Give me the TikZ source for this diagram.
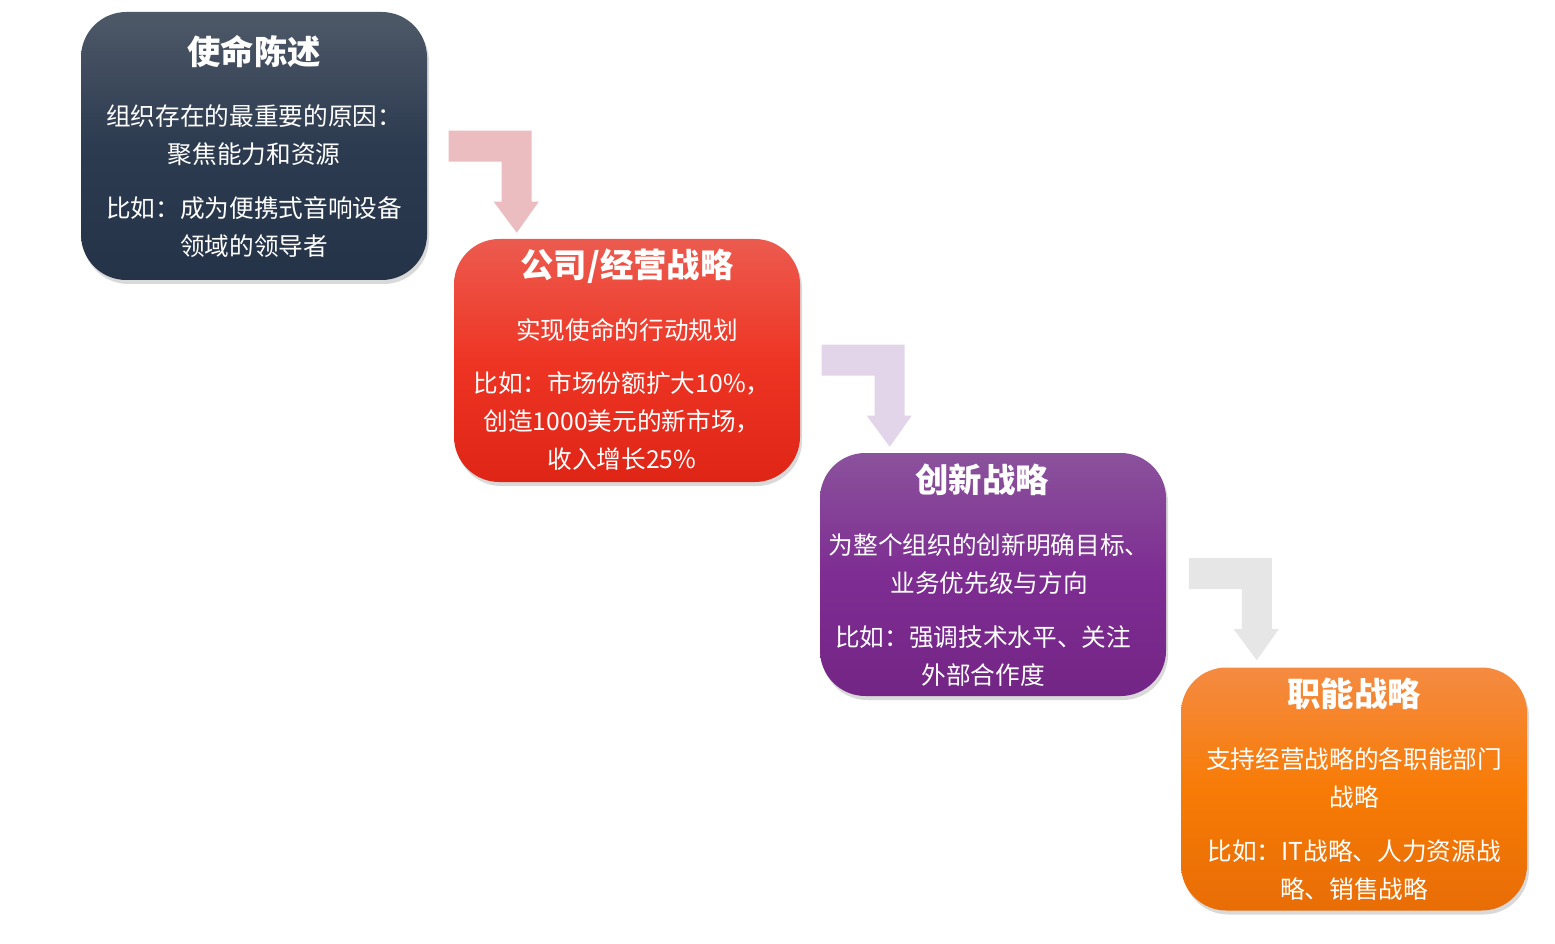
\documentclass[tikz,border=0pt]{standalone}
\usepackage{fontspec}
\setmainfont{Noto Sans CJK SC}
\usetikzlibrary{shadows,calc}
\definecolor{c1t}{HTML}{4E5968}\definecolor{c1m}{HTML}{2D3B50}\definecolor{c1b}{HTML}{243348}
\definecolor{c2t}{HTML}{EC5B4F}\definecolor{c2m}{HTML}{EE3524}\definecolor{c2b}{HTML}{DF2516}
\definecolor{c3t}{HTML}{8B529C}\definecolor{c3m}{HTML}{7E2D92}\definecolor{c3b}{HTML}{732585}
\definecolor{c4t}{HTML}{F58B42}\definecolor{c4m}{HTML}{F77B05}\definecolor{c4b}{HTML}{E86D06}
\definecolor{a1}{HTML}{EBBCC0}\definecolor{a2}{HTML}{E2D5EA}\definecolor{a3}{HTML}{E6E6E6}
\tikzset{
  card/.style={rounded corners=34pt, minimum width=259.5pt, inner sep=0pt,
    drop shadow={shadow xshift=1.5pt, shadow yshift=-3pt, opacity=0.3}},
  ttl/.style={text=white, font=\fontsize{25}{28}\selectfont\bfseries},
  bdy/.style={text=white, align=center, font=\fontsize{18.5}{28.5}\selectfont},
  bent/.pic={\fill[pic actions] (0,0) -- (83,0) -- (83,71) -- (90,71) -- (68,102) -- (45,71) -- (53,71) -- (53,31) -- (0,31) -- cycle;},
  arr/.style={drop shadow={shadow xshift=1pt, shadow yshift=-2pt, opacity=0.25}}
}
\begin{document}
\begin{tikzpicture}[x=0.75pt,y=-0.75pt]
\useasboundingbox (0,0) rectangle (1555,944);
% boxes
\node[card, minimum height=201pt, top color=c1t, bottom color=c1b, middle color=c1m] (b1) at (254,146) {};
\node[card, minimum height=182.25pt, top color=c2t, bottom color=c2b, middle color=c2m] (b2) at (627,360.5) {};
\node[card, minimum height=182.25pt, top color=c3t, bottom color=c3b, middle color=c3m] (b3) at (993,574.5) {};
\node[card, minimum height=182.25pt, top color=c4t, bottom color=c4b, middle color=c4m] (b4) at (1354,789) {};
% arrows
\pic[fill=a1, arr] at ($(b2.north west)+(-5,-108)$) {bent};
\pic[fill=a2, arr] at ($(b3.north west)+(2,-108)$) {bent};
\pic[fill=a3, arr] at ($(b4.north west)+(8,-109)$) {bent};
% texts box 1
\node[ttl] (t1) at (254,52) {使命陈述};
\node[bdy] (p11) at (254,135.5) {组织存在的最重要的原因：\\聚焦能力和资源};
\node[bdy] (p12) at (254,227) {比如：成为便携式音响设备\\领域的领导者};
% box 2
\node[ttl] (t2) at (627,266) {公司/经营战略};
\node[bdy] (p21) at (627,330) {实现使命的行动规划};
\node[bdy] (p22) at (622,421) {比如：市场份额扩大10\%，\\创造1000美元的新市场，\\收入增长25\%};
% box 3
\node[ttl] (t3) at (982,480) {创新战略};
\node[bdy] (p31) at (989,564) {为整个组织的创新明确目标、\\业务优先级与方向};
\node[bdy] (p32) at (983,656) {比如：强调技术水平、关注\\外部合作度};
% box 4
\node[ttl] (t4) at (1354,694) {职能战略};
\node[bdy] (p41) at (1354,778) {支持经营战略的各职能部门\\战略};
\node[bdy] (p42) at (1354,870) {比如：IT战略、人力资源战\\略、销售战略};
\end{tikzpicture}
\end{document}
